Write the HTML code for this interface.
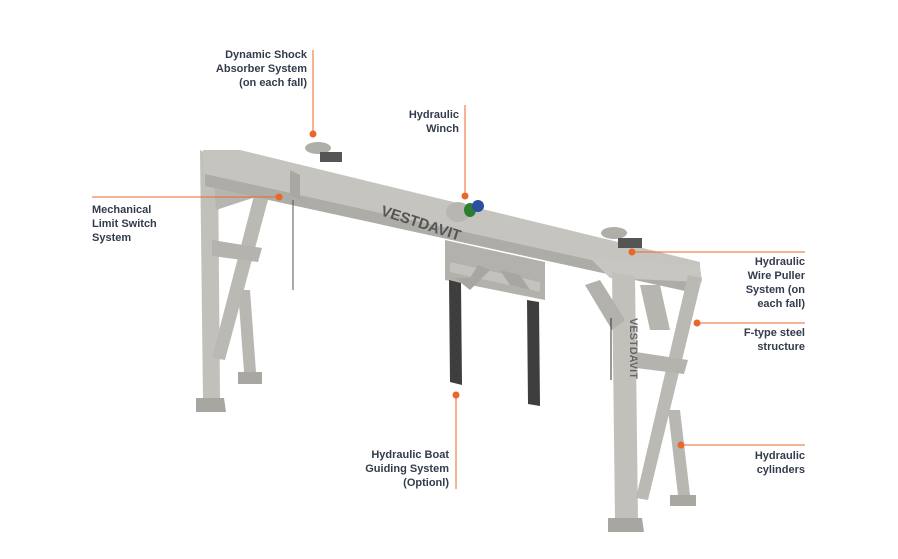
<!DOCTYPE html>
<html><head><meta charset="utf-8"><style>
html,body{margin:0;padding:0;background:#fff;}
body{width:898px;height:559px;position:relative;overflow:hidden;font-family:"Liberation Sans",sans-serif;}
.l{position:absolute;font-size:11px;font-weight:bold;color:#323c4c;line-height:14px;white-space:nowrap;}
.r{text-align:right;}
</style></head><body>
<svg width="898" height="559" style="position:absolute;left:0;top:0">
<g stroke="none">
<polygon points="238,290 250,290 256,372 244,372" fill="#b9b7b1"/>
<polygon points="238,372 262,372 262,384 238,384" fill="#a9a7a1"/>
<polygon points="668,410 680,410 690,495 678,495" fill="#b9b7b1"/>
<polygon points="670,495 696,495 696,506 670,506" fill="#a9a7a1"/>
<polygon points="445,240 545,262 545,300 445,280" fill="#b3b1ab"/>
<polygon points="450,262 540,282 540,292 450,272" fill="#c4c2bc"/>
<polygon points="455,278 470,278 478,265 490,270 470,290" fill="#a8a6a0"/>
<polygon points="500,270 520,275 530,290 510,285" fill="#a8a6a0"/>
<polygon points="449,280 461,283 462,385 450,382" fill="#3e3e3e"/>
<polygon points="527,300 539,302 540,406 528,404" fill="#3e3e3e"/>
<polygon points="200,150 218,160 220,400 203,400" fill="#c2c0ba"/>
<polygon points="196,398 224,398 226,412 196,412" fill="#a8a6a0"/>
<polygon points="258,180 272,185 225,360 212,358" fill="#bbb9b3"/>
<polygon points="212,240 262,248 258,262 212,256" fill="#b5b3ad"/>
<polygon points="214,185 270,178 262,195 216,210" fill="#b7b5af"/>
<polygon points="203,150 240,150 700,262 700,285 690,292 205,186" fill="#c6c4be"/>
<polygon points="205,174 690,282 690,292 205,186" fill="#aeaca6"/>
<polygon points="290,170 300,175 300,200 290,195" fill="#a9a7a1"/>
<polygon points="590,258 700,266 702,282 610,278" fill="#c8c6c0"/>
<polygon points="612,272 635,276 638,520 615,520" fill="#c2c0ba"/>
<polygon points="608,518 642,518 644,532 608,532" fill="#a8a6a0"/>
<polygon points="688,275 702,278 648,500 636,498" fill="#bbb9b3"/>
<polygon points="636,352 688,360 684,374 636,368" fill="#b5b3ad"/>
<polygon points="585,285 600,280 625,320 612,330" fill="#b3b1ab"/>
<polygon points="640,285 660,285 670,330 650,330" fill="#b7b5af"/>
<ellipse cx="318" cy="148" rx="13" ry="6" fill="#b0aea8"/>
<rect x="320" y="152" width="22" height="10" fill="#555"/>
<ellipse cx="614" cy="233" rx="13" ry="6" fill="#b0aea8"/>
<rect x="618" y="238" width="24" height="10" fill="#555"/>
<ellipse cx="458" cy="212" rx="12" ry="10" fill="#b8b6b0"/>
<ellipse cx="470" cy="210" rx="6" ry="7" fill="#2e7d32"/>
<ellipse cx="478" cy="206" rx="6" ry="6" fill="#2b50a0"/>
<line x1="293" y1="200" x2="293" y2="290" stroke="#555" stroke-width="1"/>
<line x1="611" y1="318" x2="611" y2="380" stroke="#333" stroke-width="1"/>
</g>
<text x="380" y="215" font-family="Liberation Sans" font-weight="bold" font-size="15" fill="#555" transform="rotate(18 380 215)">VESTDAVIT</text>
<text x="630" y="318" font-family="Liberation Sans" font-weight="bold" font-size="11" fill="#666" transform="rotate(90 630 318)">VESTDAVIT</text>
<g stroke="#e8672a" stroke-width="1" fill="none">
<line x1="313" y1="50" x2="313" y2="134"/>
<line x1="465" y1="105" x2="465" y2="196"/>
<line x1="92" y1="197" x2="279" y2="197"/>
<line x1="632" y1="252" x2="805" y2="252"/>
<line x1="697" y1="323" x2="805" y2="323"/>
<line x1="681" y1="445" x2="805" y2="445"/>
<line x1="456" y1="395" x2="456" y2="489"/>
</g>
<g fill="#e8672a">
<circle cx="313" cy="134" r="3.5"/><circle cx="465" cy="196" r="3.5"/><circle cx="279" cy="197" r="3.5"/>
<circle cx="632" cy="252" r="3.5"/><circle cx="697" cy="323" r="3.5"/><circle cx="681" cy="445" r="3.5"/>
<circle cx="456" cy="395" r="3.5"/>
</g>
</svg>
<div class="l r" style="right:591px;top:48px">Dynamic Shock<br>Absorber System<br>(on each fall)</div>
<div class="l r" style="right:439px;top:108px">Hydraulic<br>Winch</div>
<div class="l" style="left:92px;top:203px">Mechanical<br>Limit Switch<br>System</div>
<div class="l r" style="right:93px;top:255px">Hydraulic<br>Wire Puller<br>System (on<br>each fall)</div>
<div class="l r" style="right:93px;top:326px">F-type steel<br>structure</div>
<div class="l r" style="right:93px;top:449px">Hydraulic<br>cylinders</div>
<div class="l r" style="right:449px;top:448px">Hydraulic Boat<br>Guiding System<br>(Optionl)</div>
</body></html>
